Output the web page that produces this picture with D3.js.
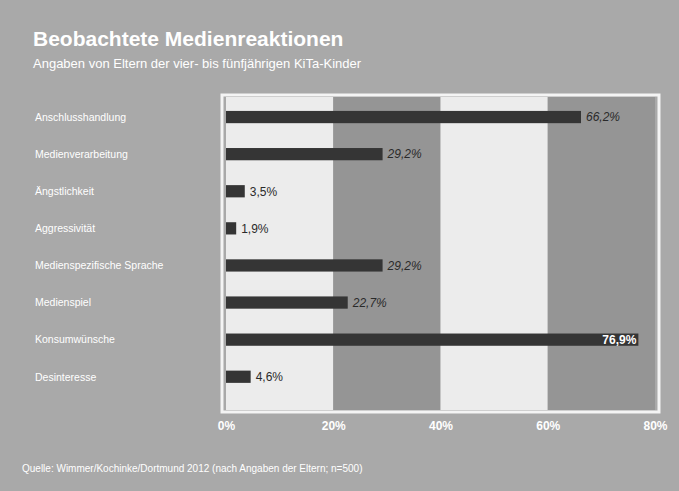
<!DOCTYPE html>
<html>
<head>
<meta charset="utf-8">
<script src="https://cdn.jsdelivr.net/npm/d3@7"></script>
<style>
  body { margin: 0; background: #a9a9a9; }
  svg { display: block; font-family: "Liberation Sans", Arial, sans-serif; }
</style>
</head>
<body>
<div class="chart"></div>
<script>
// data
var categories = ["Anschlusshandlung", "Medienverarbeitung", "Ängstlichkeit", "Aggressivität",
  "Medienspezifische Sprache", "Medienspiel", "Konsumwünsche", "Desinteresse"];
var values = [66.2, 29.2, 3.5, 1.9, 29.2, 22.7, 76.9, 4.6];
var valueLabels = ["66,2%", "29,2%", "3,5%", "1,9%", "29,2%", "22,7%", "76,9%", "4,6%"];
var ticks = [0, 20, 40, 60, 80];

var svgWidth = 679;
var svgHeight = 491;

var plot = { left: 226, right: 655, top: 97, bottom: 410 };

var svg = d3.select(".chart").append("svg")
  .attr("width", svgWidth)
  .attr("height", svgHeight);

svg.append("rect").attr("width", svgWidth).attr("height", svgHeight).attr("fill", "#a9a9a9");

var x = d3.scaleLinear().domain([0, 80]).range([plot.left, plot.right]);
// bars sit in the upper part of the frame, as in the scan
var y = d3.scaleBand().domain(categories).range([98.5, 395.3]).paddingInner(0.67).paddingOuter(0.335);

// frame
svg.append("rect")
  .attr("x", plot.left - 4).attr("y", plot.top - 2)
  .attr("width", plot.right - plot.left + 8).attr("height", plot.bottom - plot.top + 4)
  .attr("fill", "none").attr("stroke", "#f4f4f4").attr("stroke-width", 3);

// alternating bands
svg.selectAll(".band")
  .data(d3.pairs(ticks))
  .enter()
  .append("rect")
  .attr("x", function(d) { return x(d[0]); })
  .attr("y", plot.top)
  .attr("width", function(d) { return x(d[1]) - x(d[0]); })
  .attr("height", plot.bottom - plot.top)
  .attr("fill", function(d, i) { return i % 2 === 0 ? "#ececec" : "#959595"; });

// bars
svg.selectAll(".bar")
  .data(values)
  .enter()
  .append("rect")
  .attr("x", x(0))
  .attr("y", function(d, i) { return y(categories[i]); })
  .attr("width", function(d) { return x(d) - x(0); })
  .attr("height", y.bandwidth())
  .attr("fill", "#353535");

// value labels
svg.selectAll(".val")
  .data(values)
  .enter()
  .append("text")
  .attr("x", function(d) { return d > 70 ? x(d) - 2 : x(d) + 5; })
  .attr("y", function(d, i) { return y(categories[i]) + y.bandwidth() / 2; })
  .attr("dy", "0.36em")
  .attr("text-anchor", function(d) { return d > 70 ? "end" : "start"; })
  .attr("font-size", 12)
  .attr("font-style", function(d) { return d > 10 && d < 70 ? "italic" : "normal"; })
  .attr("font-weight", function(d) { return d > 70 ? "bold" : "normal"; })
  .attr("fill", function(d) { return d > 70 ? "#ffffff" : "#2a2a2a"; })
  .text(function(d, i) { return valueLabels[i]; });

// category labels
svg.selectAll(".cat")
  .data(categories)
  .enter()
  .append("text")
  .attr("x", 35)
  .attr("y", function(d) { return y(d) + y.bandwidth() / 2; })
  .attr("dy", "0.36em")
  .attr("font-size", 10.5)
  .attr("fill", "#ffffff")
  .text(function(d) { return d; });

// x axis
var bottomAxis = d3.axisBottom(x).tickValues(ticks).tickSize(0).tickFormat(function(d) { return d + "%"; });
var xAxis = svg.append("g")
  .attr("transform", "translate(0," + (plot.bottom + 8) + ")")
  .call(bottomAxis);
xAxis.select(".domain").remove();
xAxis.selectAll("text").attr("fill", "#ffffff").attr("font-size", 12).attr("font-weight", "bold");

// titles
svg.append("text")
  .attr("x", 33).attr("y", 46)
  .attr("font-size", 21).attr("font-weight", "bold").attr("fill", "#ffffff")
  .text("Beobachtete Medienreaktionen");

svg.append("text")
  .attr("x", 33).attr("y", 68)
  .attr("font-size", 13).attr("fill", "#ffffff")
  .text("Angaben von Eltern der vier- bis fünfjährigen KiTa-Kinder");

// source
svg.append("text")
  .attr("x", 22).attr("y", 472)
  .attr("font-size", 10).attr("fill", "#ffffff")
  .text("Quelle: Wimmer/Kochinke/Dortmund 2012 (nach Angaben der Eltern; n=500)");
</script>
</body>
</html>
